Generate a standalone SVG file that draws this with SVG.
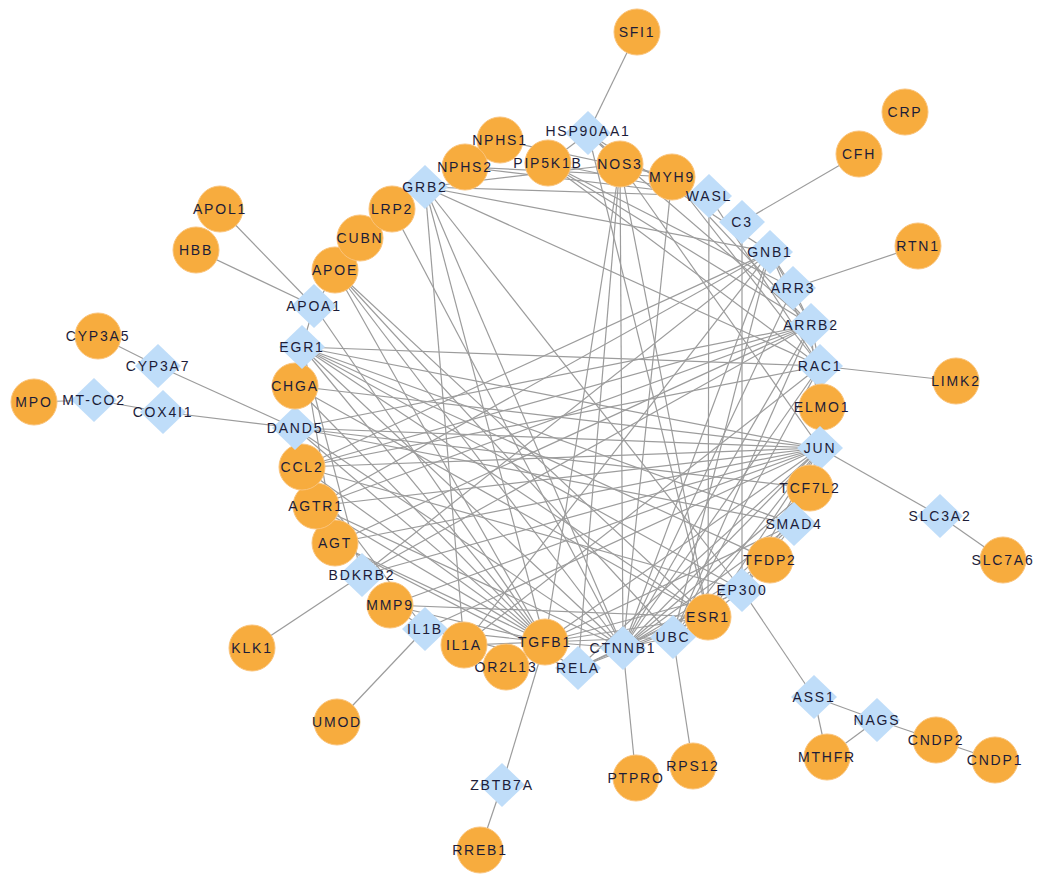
<svg xmlns="http://www.w3.org/2000/svg" width="1050" height="887" viewBox="0 0 1050 887">
<style>
.e line{stroke:#9c9c9c;stroke-width:1.2;fill:none}
.c circle{fill:#F7AC3E;stroke:#FAC37A;stroke-width:1}
.d polygon{fill:#BFDDF9;stroke:none}
text{font-family:"Liberation Sans",Arial,sans-serif;font-size:14px;letter-spacing:1.8px;fill:#1c1c38;text-anchor:middle}
</style>
<rect width="1050" height="887" fill="#ffffff"/>
<g id="edges" class="e">
<line x1="588" y1="133" x2="620" y2="164"/>
<line x1="588" y1="133" x2="548" y2="163"/>
<line x1="588" y1="133" x2="811" y2="325"/>
<line x1="588" y1="133" x2="708" y2="617"/>
<line x1="588" y1="133" x2="770" y2="252"/>
<line x1="500" y1="140" x2="465" y2="167"/>
<line x1="500" y1="140" x2="672" y2="177"/>
<line x1="465" y1="167" x2="709" y2="196"/>
<line x1="465" y1="167" x2="672" y2="177"/>
<line x1="425" y1="187" x2="709" y2="196"/>
<line x1="425" y1="187" x2="620" y2="164"/>
<line x1="425" y1="187" x2="770" y2="252"/>
<line x1="425" y1="187" x2="820" y2="366"/>
<line x1="425" y1="187" x2="464" y2="645"/>
<line x1="425" y1="187" x2="545" y2="642"/>
<line x1="425" y1="187" x2="623" y2="648"/>
<line x1="425" y1="187" x2="742" y2="590"/>
<line x1="548" y1="163" x2="709" y2="196"/>
<line x1="548" y1="163" x2="811" y2="325"/>
<line x1="548" y1="163" x2="820" y2="366"/>
<line x1="548" y1="163" x2="793" y2="288"/>
<line x1="620" y1="164" x2="545" y2="642"/>
<line x1="620" y1="164" x2="578" y2="668"/>
<line x1="620" y1="164" x2="623" y2="648"/>
<line x1="620" y1="164" x2="708" y2="617"/>
<line x1="620" y1="164" x2="672" y2="177"/>
<line x1="620" y1="164" x2="820" y2="448"/>
<line x1="672" y1="177" x2="820" y2="366"/>
<line x1="672" y1="177" x2="623" y2="648"/>
<line x1="672" y1="177" x2="811" y2="325"/>
<line x1="709" y1="196" x2="708" y2="617"/>
<line x1="709" y1="196" x2="820" y2="366"/>
<line x1="742" y1="222" x2="742" y2="590"/>
<line x1="392" y1="209" x2="623" y2="648"/>
<line x1="392" y1="209" x2="335" y2="270"/>
<line x1="360" y1="238" x2="314" y2="306"/>
<line x1="335" y1="270" x2="545" y2="642"/>
<line x1="335" y1="270" x2="673" y2="637"/>
<line x1="335" y1="270" x2="708" y2="617"/>
<line x1="335" y1="270" x2="623" y2="648"/>
<line x1="314" y1="306" x2="545" y2="642"/>
<line x1="314" y1="306" x2="302" y2="347"/>
<line x1="302" y1="347" x2="820" y2="448"/>
<line x1="302" y1="347" x2="545" y2="642"/>
<line x1="302" y1="347" x2="742" y2="590"/>
<line x1="302" y1="347" x2="623" y2="648"/>
<line x1="302" y1="347" x2="708" y2="617"/>
<line x1="302" y1="347" x2="794" y2="524"/>
<line x1="302" y1="347" x2="335" y2="543"/>
<line x1="302" y1="347" x2="362" y2="575"/>
<line x1="302" y1="347" x2="770" y2="560"/>
<line x1="302" y1="347" x2="820" y2="366"/>
<line x1="295" y1="386" x2="820" y2="448"/>
<line x1="295" y1="386" x2="545" y2="642"/>
<line x1="295" y1="386" x2="708" y2="617"/>
<line x1="295" y1="428" x2="820" y2="448"/>
<line x1="295" y1="428" x2="794" y2="524"/>
<line x1="295" y1="428" x2="810" y2="488"/>
<line x1="295" y1="428" x2="545" y2="642"/>
<line x1="295" y1="428" x2="623" y2="648"/>
<line x1="295" y1="428" x2="811" y2="325"/>
<line x1="302" y1="467" x2="820" y2="448"/>
<line x1="302" y1="467" x2="545" y2="642"/>
<line x1="302" y1="467" x2="770" y2="252"/>
<line x1="302" y1="467" x2="811" y2="325"/>
<line x1="302" y1="467" x2="742" y2="590"/>
<line x1="302" y1="467" x2="820" y2="366"/>
<line x1="302" y1="467" x2="425" y2="629"/>
<line x1="316" y1="506" x2="811" y2="325"/>
<line x1="316" y1="506" x2="770" y2="252"/>
<line x1="316" y1="506" x2="820" y2="448"/>
<line x1="316" y1="506" x2="545" y2="642"/>
<line x1="316" y1="506" x2="335" y2="543"/>
<line x1="316" y1="506" x2="623" y2="648"/>
<line x1="335" y1="543" x2="545" y2="642"/>
<line x1="335" y1="543" x2="820" y2="448"/>
<line x1="335" y1="543" x2="811" y2="325"/>
<line x1="335" y1="543" x2="578" y2="668"/>
<line x1="362" y1="575" x2="770" y2="252"/>
<line x1="362" y1="575" x2="811" y2="325"/>
<line x1="362" y1="575" x2="820" y2="448"/>
<line x1="390" y1="605" x2="820" y2="448"/>
<line x1="390" y1="605" x2="545" y2="642"/>
<line x1="390" y1="605" x2="708" y2="617"/>
<line x1="390" y1="605" x2="425" y2="629"/>
<line x1="425" y1="629" x2="820" y2="448"/>
<line x1="425" y1="629" x2="545" y2="642"/>
<line x1="425" y1="629" x2="578" y2="668"/>
<line x1="464" y1="645" x2="545" y2="642"/>
<line x1="464" y1="645" x2="820" y2="366"/>
<line x1="464" y1="645" x2="770" y2="252"/>
<line x1="545" y1="642" x2="794" y2="524"/>
<line x1="545" y1="642" x2="820" y2="448"/>
<line x1="545" y1="642" x2="742" y2="590"/>
<line x1="545" y1="642" x2="623" y2="648"/>
<line x1="545" y1="642" x2="708" y2="617"/>
<line x1="545" y1="642" x2="673" y2="637"/>
<line x1="578" y1="668" x2="742" y2="590"/>
<line x1="578" y1="668" x2="820" y2="448"/>
<line x1="578" y1="668" x2="623" y2="648"/>
<line x1="578" y1="668" x2="708" y2="617"/>
<line x1="623" y1="648" x2="810" y2="488"/>
<line x1="623" y1="648" x2="794" y2="524"/>
<line x1="623" y1="648" x2="742" y2="590"/>
<line x1="623" y1="648" x2="820" y2="448"/>
<line x1="623" y1="648" x2="820" y2="366"/>
<line x1="623" y1="648" x2="811" y2="325"/>
<line x1="623" y1="648" x2="770" y2="252"/>
<line x1="623" y1="648" x2="708" y2="617"/>
<line x1="623" y1="648" x2="673" y2="637"/>
<line x1="623" y1="648" x2="793" y2="288"/>
<line x1="673" y1="637" x2="820" y2="448"/>
<line x1="673" y1="637" x2="708" y2="617"/>
<line x1="673" y1="637" x2="820" y2="366"/>
<line x1="673" y1="637" x2="770" y2="252"/>
<line x1="673" y1="637" x2="811" y2="325"/>
<line x1="673" y1="637" x2="794" y2="524"/>
<line x1="742" y1="590" x2="794" y2="524"/>
<line x1="742" y1="590" x2="708" y2="617"/>
<line x1="742" y1="590" x2="810" y2="488"/>
<line x1="742" y1="590" x2="820" y2="448"/>
<line x1="708" y1="617" x2="820" y2="448"/>
<line x1="794" y1="524" x2="820" y2="448"/>
<line x1="810" y1="488" x2="820" y2="448"/>
<line x1="820" y1="366" x2="822" y2="407"/>
<line x1="770" y1="252" x2="811" y2="325"/>
<line x1="770" y1="252" x2="793" y2="288"/>
<line x1="811" y1="325" x2="793" y2="288"/>
<line x1="811" y1="325" x2="820" y2="448"/>
<line x1="770" y1="560" x2="623" y2="648"/>
<line x1="770" y1="252" x2="820" y2="366"/>
<line x1="811" y1="325" x2="820" y2="366"/>
<line x1="637" y1="32" x2="588" y2="133"/>
<line x1="859" y1="154" x2="742" y2="222"/>
<line x1="918" y1="246" x2="793" y2="288"/>
<line x1="956" y1="381" x2="820" y2="366"/>
<line x1="220" y1="209" x2="314" y2="306"/>
<line x1="196" y1="250" x2="314" y2="306"/>
<line x1="98" y1="336" x2="158" y2="366"/>
<line x1="158" y1="366" x2="295" y2="428"/>
<line x1="34" y1="402" x2="94" y2="400"/>
<line x1="94" y1="400" x2="163" y2="412"/>
<line x1="163" y1="412" x2="295" y2="428"/>
<line x1="940" y1="516" x2="820" y2="448"/>
<line x1="940" y1="516" x2="1003" y2="560"/>
<line x1="252" y1="648" x2="362" y2="575"/>
<line x1="337" y1="722" x2="425" y2="629"/>
<line x1="502" y1="785" x2="545" y2="642"/>
<line x1="502" y1="785" x2="480" y2="850"/>
<line x1="636" y1="778" x2="623" y2="648"/>
<line x1="693" y1="766" x2="673" y2="637"/>
<line x1="814" y1="697" x2="742" y2="590"/>
<line x1="814" y1="697" x2="877" y2="720"/>
<line x1="814" y1="697" x2="827" y2="757"/>
<line x1="877" y1="720" x2="827" y2="757"/>
<line x1="877" y1="720" x2="936" y2="740"/>
<line x1="936" y1="740" x2="995" y2="760"/>
</g>
<g id="nodes">
<g id="n-SFI1" class="c" transform="translate(637,32)"><circle r="23"/><text y="5">SFI1</text></g>
<g id="n-CRP" class="c" transform="translate(905,112)"><circle r="23"/><text y="5">CRP</text></g>
<g id="n-CFH" class="c" transform="translate(859,154)"><circle r="23"/><text y="5">CFH</text></g>
<g id="n-RTN1" class="c" transform="translate(918,246)"><circle r="23"/><text y="5">RTN1</text></g>
<g id="n-LIMK2" class="c" transform="translate(956,381)"><circle r="23"/><text y="5">LIMK2</text></g>
<g id="n-APOL1" class="c" transform="translate(220,209)"><circle r="23"/><text y="5">APOL1</text></g>
<g id="n-HBB" class="c" transform="translate(196,250)"><circle r="23"/><text y="5">HBB</text></g>
<g id="n-CYP3A5" class="c" transform="translate(98,336)"><circle r="23"/><text y="5">CYP3A5</text></g>
<g id="n-CYP3A7" class="d" transform="translate(158,366)"><polygon points="0,-22 23,0 0,22 -23,0"/><text y="5">CYP3A7</text></g>
<g id="n-MPO" class="c" transform="translate(34,402)"><circle r="23"/><text y="5">MPO</text></g>
<g id="n-MT-CO2" class="d" transform="translate(94,400)"><polygon points="0,-22 23,0 0,22 -23,0"/><text y="5">MT-CO2</text></g>
<g id="n-COX4I1" class="d" transform="translate(163,412)"><polygon points="0,-22 23,0 0,22 -23,0"/><text y="5">COX4I1</text></g>
<g id="n-SLC3A2" class="d" transform="translate(940,516)"><polygon points="0,-22 23,0 0,22 -23,0"/><text y="5">SLC3A2</text></g>
<g id="n-SLC7A6" class="c" transform="translate(1003,560)"><circle r="23"/><text y="5">SLC7A6</text></g>
<g id="n-KLK1" class="c" transform="translate(252,648)"><circle r="23"/><text y="5">KLK1</text></g>
<g id="n-UMOD" class="c" transform="translate(337,722)"><circle r="23"/><text y="5">UMOD</text></g>
<g id="n-ZBTB7A" class="d" transform="translate(502,785)"><polygon points="0,-22 23,0 0,22 -23,0"/><text y="5">ZBTB7A</text></g>
<g id="n-RREB1" class="c" transform="translate(480,850)"><circle r="23"/><text y="5">RREB1</text></g>
<g id="n-PTPRO" class="c" transform="translate(636,778)"><circle r="23"/><text y="5">PTPRO</text></g>
<g id="n-RPS12" class="c" transform="translate(693,766)"><circle r="23"/><text y="5">RPS12</text></g>
<g id="n-ASS1" class="d" transform="translate(814,697)"><polygon points="0,-22 23,0 0,22 -23,0"/><text y="5">ASS1</text></g>
<g id="n-MTHFR" class="c" transform="translate(827,757)"><circle r="23"/><text y="5">MTHFR</text></g>
<g id="n-NAGS" class="d" transform="translate(877,720)"><polygon points="0,-22 23,0 0,22 -23,0"/><text y="5">NAGS</text></g>
<g id="n-CNDP2" class="c" transform="translate(936,740)"><circle r="23"/><text y="5">CNDP2</text></g>
<g id="n-CNDP1" class="c" transform="translate(995,760)"><circle r="23"/><text y="5">CNDP1</text></g>
<g id="n-NPHS1" class="c" transform="translate(500,140)"><circle r="23"/><text y="5">NPHS1</text></g>
<g id="n-HSP90AA1" class="d" transform="translate(588,133)"><polygon points="0,-22 23,0 0,22 -23,0"/><text y="3">HSP90AA1</text></g>
<g id="n-NPHS2" class="c" transform="translate(465,167)"><circle r="23"/><text y="5">NPHS2</text></g>
<g id="n-PIP5K1B" class="c" transform="translate(548,163)"><circle r="23"/><text y="5">PIP5K1B</text></g>
<g id="n-NOS3" class="c" transform="translate(620,164)"><circle r="23"/><text y="5">NOS3</text></g>
<g id="n-MYH9" class="c" transform="translate(672,177)"><circle r="23"/><text y="5">MYH9</text></g>
<g id="n-WASL" class="d" transform="translate(709,196)"><polygon points="0,-22 23,0 0,22 -23,0"/><text y="5">WASL</text></g>
<g id="n-C3" class="d" transform="translate(742,222)"><polygon points="0,-22 23,0 0,22 -23,0"/><text y="5">C3</text></g>
<g id="n-GNB1" class="d" transform="translate(770,252)"><polygon points="0,-22 23,0 0,22 -23,0"/><text y="5">GNB1</text></g>
<g id="n-ARR3" class="d" transform="translate(793,288)"><polygon points="0,-22 23,0 0,22 -23,0"/><text y="5">ARR3</text></g>
<g id="n-ARRB2" class="d" transform="translate(811,325)"><polygon points="0,-22 23,0 0,22 -23,0"/><text y="5">ARRB2</text></g>
<g id="n-RAC1" class="d" transform="translate(820,366)"><polygon points="0,-22 23,0 0,22 -23,0"/><text y="5">RAC1</text></g>
<g id="n-ELMO1" class="c" transform="translate(822,407)"><circle r="23"/><text y="5">ELMO1</text></g>
<g id="n-JUN" class="d" transform="translate(820,448)"><polygon points="0,-22 23,0 0,22 -23,0"/><text y="5">JUN</text></g>
<g id="n-TCF7L2" class="c" transform="translate(810,488)"><circle r="23"/><text y="5">TCF7L2</text></g>
<g id="n-SMAD4" class="d" transform="translate(794,524)"><polygon points="0,-22 23,0 0,22 -23,0"/><text y="5">SMAD4</text></g>
<g id="n-TFDP2" class="c" transform="translate(770,560)"><circle r="23"/><text y="5">TFDP2</text></g>
<g id="n-EP300" class="d" transform="translate(742,590)"><polygon points="0,-22 23,0 0,22 -23,0"/><text y="5">EP300</text></g>
<g id="n-ESR1" class="c" transform="translate(708,617)"><circle r="23"/><text y="5">ESR1</text></g>
<g id="n-UBC" class="d" transform="translate(673,637)"><polygon points="0,-22 23,0 0,22 -23,0"/><text y="5">UBC</text></g>
<g id="n-CTNNB1" class="d" transform="translate(623,648)"><polygon points="0,-22 23,0 0,22 -23,0"/><text y="5">CTNNB1</text></g>
<g id="n-OR2L13" class="c" transform="translate(506,667)"><circle r="23"/><text y="5">OR2L13</text></g>
<g id="n-TGFB1" class="c" transform="translate(545,642)"><circle r="23"/><text y="5">TGFB1</text></g>
<g id="n-RELA" class="d" transform="translate(578,668)"><polygon points="0,-22 23,0 0,22 -23,0"/><text y="5">RELA</text></g>
<g id="n-IL1B" class="d" transform="translate(425,629)"><polygon points="0,-22 23,0 0,22 -23,0"/><text y="5">IL1B</text></g>
<g id="n-IL1A" class="c" transform="translate(464,645)"><circle r="23"/><text y="5">IL1A</text></g>
<g id="n-MMP9" class="c" transform="translate(390,605)"><circle r="23"/><text y="5">MMP9</text></g>
<g id="n-BDKRB2" class="d" transform="translate(362,575)"><polygon points="0,-22 23,0 0,22 -23,0"/><text y="5">BDKRB2</text></g>
<g id="n-AGT" class="c" transform="translate(335,543)"><circle r="23"/><text y="5">AGT</text></g>
<g id="n-AGTR1" class="c" transform="translate(316,506)"><circle r="23"/><text y="5">AGTR1</text></g>
<g id="n-CCL2" class="c" transform="translate(302,467)"><circle r="23"/><text y="5">CCL2</text></g>
<g id="n-DAND5" class="d" transform="translate(295,428)"><polygon points="0,-22 23,0 0,22 -23,0"/><text y="5">DAND5</text></g>
<g id="n-CHGA" class="c" transform="translate(295,386)"><circle r="23"/><text y="5">CHGA</text></g>
<g id="n-EGR1" class="d" transform="translate(302,347)"><polygon points="0,-22 23,0 0,22 -23,0"/><text y="5">EGR1</text></g>
<g id="n-APOA1" class="d" transform="translate(314,306)"><polygon points="0,-22 23,0 0,22 -23,0"/><text y="5">APOA1</text></g>
<g id="n-APOE" class="c" transform="translate(335,270)"><circle r="23"/><text y="5">APOE</text></g>
<g id="n-CUBN" class="c" transform="translate(360,238)"><circle r="23"/><text y="5">CUBN</text></g>
<g id="n-LRP2" class="c" transform="translate(392,209)"><circle r="23"/><text y="5">LRP2</text></g>
<g id="n-GRB2" class="d" transform="translate(425,187)"><polygon points="0,-22 23,0 0,22 -23,0"/><text y="5">GRB2</text></g>
</g>
</svg>
